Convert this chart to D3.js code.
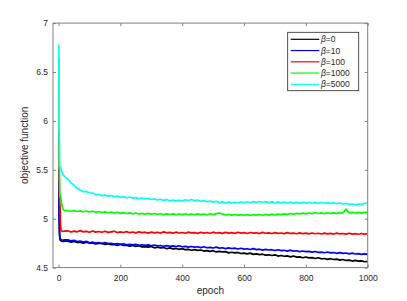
<!DOCTYPE html>
<html>
<head>
<meta charset="utf-8">
<script src="https://cdn.jsdelivr.net/npm/d3@7"></script>
<style>
  body { margin: 0; background: #fff; }
  text { font-family: "Liberation Sans", Arial, sans-serif; fill: #262626; }
</style>
</head>
<body>
<div id="chart"></div>
<script>
// Data
var epochs = [1, 2, 3, 4, 5, 6, 8, 10, 15, 20].concat(d3.range(30, 1001, 10));

var beta0 = [5.40, 4.98, 4.84, 4.80, 4.784, 4.778, 4.774, 4.771, 4.768, 4.770,
  4.770, 4.761, 4.768, 4.758, 4.761, 4.750, 4.760, 4.750, 4.753, 4.741,
  4.747, 4.748, 4.737, 4.745, 4.734, 4.737, 4.726, 4.738, 4.726, 4.729,
  4.719, 4.726, 4.717, 4.724, 4.712, 4.715, 4.709, 4.716, 4.702, 4.708,
  4.702, 4.706, 4.693, 4.701, 4.692, 4.695, 4.686, 4.694, 4.683, 4.686,
  4.677, 4.684, 4.676, 4.680, 4.669, 4.674, 4.666, 4.673, 4.660, 4.665,
  4.660, 4.663, 4.651, 4.657, 4.650, 4.655, 4.644, 4.648, 4.641, 4.648,
  4.635, 4.640, 4.633, 4.637, 4.627, 4.631, 4.624, 4.630, 4.618, 4.624,
  4.616, 4.620, 4.610, 4.618, 4.607, 4.610, 4.601, 4.608, 4.600, 4.602,
  4.593, 4.601, 4.590, 4.593, 4.584, 4.591, 4.583, 4.586, 4.577, 4.583,
  4.573, 4.576, 4.567, 4.574, 4.566, 4.569, 4.560, 4.564];

var beta10 = [5.50, 5.05, 4.88, 4.82, 4.80, 4.792, 4.787, 4.785, 4.781, 4.783,
  4.784, 4.773, 4.779, 4.766, 4.770, 4.762, 4.768, 4.754, 4.761, 4.751,
  4.755, 4.746, 4.755, 4.745, 4.749, 4.740, 4.745, 4.737, 4.744, 4.733,
  4.738, 4.733, 4.739, 4.727, 4.734, 4.727, 4.732, 4.723, 4.731, 4.722,
  4.726, 4.718, 4.725, 4.718, 4.722, 4.714, 4.723, 4.713, 4.717, 4.709,
  4.716, 4.709, 4.713, 4.705, 4.713, 4.703, 4.707, 4.700, 4.709, 4.699,
  4.703, 4.694, 4.702, 4.695, 4.699, 4.690, 4.698, 4.689, 4.693, 4.685,
  4.694, 4.684, 4.688, 4.679, 4.687, 4.680, 4.683, 4.675, 4.683, 4.673,
  4.677, 4.669, 4.678, 4.668, 4.672, 4.663, 4.670, 4.663, 4.666, 4.658,
  4.665, 4.656, 4.659, 4.652, 4.660, 4.650, 4.654, 4.645, 4.653, 4.645,
  4.649, 4.641, 4.648, 4.639, 4.643, 4.635, 4.641, 4.635];

var beta100 = [5.90, 5.50, 5.20, 5.16, 5.12, 4.95, 4.878, 4.874, 4.870, 4.873,
  4.876, 4.864, 4.873, 4.866, 4.878, 4.865, 4.871, 4.862, 4.874, 4.863,
  4.869, 4.861, 4.872, 4.860, 4.866, 4.871, 4.858, 4.866, 4.859, 4.868,
  4.857, 4.864, 4.855, 4.866, 4.858, 4.862, 4.853, 4.863, 4.855, 4.861,
  4.853, 4.865, 4.856, 4.860, 4.852, 4.862, 4.854, 4.859, 4.851, 4.863,
  4.855, 4.858, 4.850, 4.861, 4.853, 4.859, 4.851, 4.862, 4.854, 4.857,
  4.850, 4.860, 4.852, 4.858, 4.850, 4.861, 4.853, 4.857, 4.849, 4.859,
  4.852, 4.856, 4.848, 4.860, 4.851, 4.855, 4.849, 4.858, 4.850, 4.854,
  4.847, 4.857, 4.849, 4.853, 4.846, 4.855, 4.848, 4.852, 4.845, 4.854,
  4.846, 4.851, 4.844, 4.853, 4.845, 4.850, 4.843, 4.852, 4.844, 4.849,
  4.842, 4.851, 4.843, 4.848, 4.841, 4.849, 4.842, 4.846];

var beta1000 = [6.65, 5.90, 5.40, 5.25, 5.22, 5.24, 5.20, 5.15, 5.095, 5.083,
  5.084, 5.076, 5.083, 5.074, 5.080, 5.071, 5.079, 5.069, 5.076, 5.066,
  5.073, 5.063, 5.070, 5.061, 5.067, 5.058, 5.066, 5.055, 5.062, 5.053,
  5.059, 5.049, 5.058, 5.048, 5.055, 5.046, 5.054, 5.047, 5.053, 5.044,
  5.051, 5.042, 5.050, 5.043, 5.049, 5.041, 5.048, 5.042, 5.051, 5.041,
  5.047, 5.040, 5.049, 5.041, 5.048, 5.040, 5.050, 5.043, 5.052, 5.058,
  5.046, 5.039, 5.045, 5.036, 5.043, 5.034, 5.041, 5.035, 5.042, 5.034,
  5.040, 5.036, 5.043, 5.035, 5.044, 5.037, 5.045, 5.039, 5.047, 5.041,
  5.049, 5.044, 5.053, 5.047, 5.055, 5.049, 5.057, 5.050, 5.058, 5.052,
  5.063, 5.053, 5.059, 5.052, 5.061, 5.054, 5.060, 5.055, 5.062, 5.058,
  5.098, 5.060, 5.066, 5.058, 5.064, 5.057, 5.065, 5.062];

var beta5000 = [6.78, 6.00, 5.60, 5.54, 5.53, 5.52, 5.50, 5.48, 5.45, 5.43,
  5.405, 5.366, 5.343, 5.311, 5.294, 5.276, 5.279, 5.264, 5.262, 5.247,
  5.249, 5.236, 5.241, 5.231, 5.237, 5.226, 5.232, 5.220, 5.226, 5.214,
  5.222, 5.210, 5.216, 5.205, 5.212, 5.201, 5.208, 5.196, 5.203, 5.191,
  5.199, 5.187, 5.195, 5.184, 5.191, 5.182, 5.189, 5.183, 5.192, 5.186,
  5.196, 5.184, 5.190, 5.178, 5.185, 5.173, 5.180, 5.170, 5.177, 5.165,
  5.172, 5.162, 5.170, 5.161, 5.168, 5.163, 5.171, 5.164, 5.173, 5.166,
  5.175, 5.167, 5.176, 5.168, 5.174, 5.165, 5.172, 5.163, 5.170, 5.162,
  5.169, 5.161, 5.168, 5.160, 5.167, 5.159, 5.167, 5.160, 5.166, 5.158,
  5.165, 5.157, 5.166, 5.158, 5.164, 5.156, 5.163, 5.155, 5.160, 5.150,
  5.156, 5.146, 5.150, 5.142, 5.150, 5.146, 5.156, 5.158];

var seriesNames = ["0", "10", "100", "1000", "5000"];
var seriesColors = ["#000000", "#0000ff", "#ff0000", "#00ff00", "#00ffff"];
var seriesValues = [beta0, beta10, beta100, beta1000, beta5000];

var xTicks = [0, 200, 400, 600, 800, 1000];
var yTicks = [4.5, 5, 5.5, 6, 6.5, 7];

// SVG dimensions
var svgWidth = 407;
var svgHeight = 301;

// plot box in pixels
var box = { left: 53, right: 367.7, top: 23.1, bottom: 267.6 };

var svg = d3.select("#chart")
  .append("svg")
  .attr("width", svgWidth)
  .attr("height", svgHeight);

var x = d3.scaleLinear().domain([-18, 1000]).range([box.left, box.right]);
var y = d3.scaleLinear().domain([4.5, 7]).range([box.bottom, box.top]);

svg.append("clipPath").attr("id", "clip")
  .append("rect")
  .attr("x", box.left).attr("y", box.top)
  .attr("width", box.right - box.left).attr("height", box.bottom - box.top);

// Lines
var line = d3.line()
  .x((d, i) => x(epochs[i]))
  .y(d => y(d));

svg.append("g")
  .attr("clip-path", "url(#clip)")
  .selectAll("path")
  .data(seriesValues)
  .enter()
  .append("path")
  .attr("d", d => line(d))
  .attr("fill", "none")
  .attr("stroke", (d, i) => seriesColors[i])
  .attr("stroke-width", 1.7)
  .attr("stroke-linejoin", "round");

// Axes (ticks inside, box on)
function styleAxis(g) {
  g.select(".domain").remove();
  g.selectAll(".tick line").attr("stroke", "#808080");
  g.selectAll(".tick text")
    .attr("fill", "#262626")
    .style("font-size", "8.5px")
    .style("font-family", "'Liberation Sans', Arial, sans-serif");
}

svg.append("g")
  .attr("transform", `translate(0, ${box.bottom})`)
  .call(d3.axisBottom(x).tickValues(xTicks).tickSizeInner(-3).tickSizeOuter(0).tickPadding(7).tickFormat(d3.format("d")))
  .call(styleAxis);

svg.append("g")
  .attr("transform", `translate(0, ${box.top})`)
  .call(d3.axisTop(x).tickValues(xTicks).tickSizeInner(-3).tickSizeOuter(0).tickFormat(""))
  .call(styleAxis);

svg.append("g")
  .attr("transform", `translate(${box.left}, 0)`)
  .call(d3.axisLeft(y).tickValues(yTicks).tickSizeInner(-3).tickSizeOuter(0).tickPadding(5).tickFormat(d3.format("")))
  .call(styleAxis);

svg.append("g")
  .attr("transform", `translate(${box.right}, 0)`)
  .call(d3.axisRight(y).tickValues(yTicks).tickSizeInner(-3).tickSizeOuter(0).tickFormat(""))
  .call(styleAxis);

svg.append("rect")
  .attr("x", box.left).attr("y", box.top)
  .attr("width", box.right - box.left).attr("height", box.bottom - box.top)
  .attr("fill", "none")
  .attr("stroke", "#808080")
  .attr("stroke-width", 1);

// Axis labels
svg.append("text")
  .attr("transform", `translate(${(box.left + box.right) / 2}, 293.5)`)
  .style("text-anchor", "middle")
  .style("font-size", "10px")
  .text("epoch");

svg.append("text")
  .attr("transform", `translate(28, ${(box.top + box.bottom) / 2}) rotate(-90)`)
  .style("text-anchor", "middle")
  .style("font-size", "10px")
  .text("objective function");

// Legend
var legend = svg.append("g");
legend.append("rect")
  .attr("x", 287.7).attr("y", 32.3)
  .attr("width", 71).attr("height", 58.4)
  .attr("fill", "#fff")
  .attr("stroke", "#262626")
  .attr("stroke-width", 0.8);

var items = legend.selectAll("g.item")
  .data(seriesNames)
  .enter()
  .append("g")
  .attr("class", "item")
  .attr("transform", (d, i) => `translate(0, ${39.3 + i * 11.25})`);

items.append("line")
  .attr("x1", 290.7).attr("x2", 319.3)
  .attr("stroke", (d, i) => seriesColors[i])
  .attr("stroke-width", 1.2);

var labels = items.append("text")
  .attr("x", 321)
  .attr("dy", "0.35em")
  .style("font-size", "8.5px");
labels.append("tspan").style("font-style", "italic").text("β");
labels.append("tspan").text(d => "=" + d);
</script>
</body>
</html>
